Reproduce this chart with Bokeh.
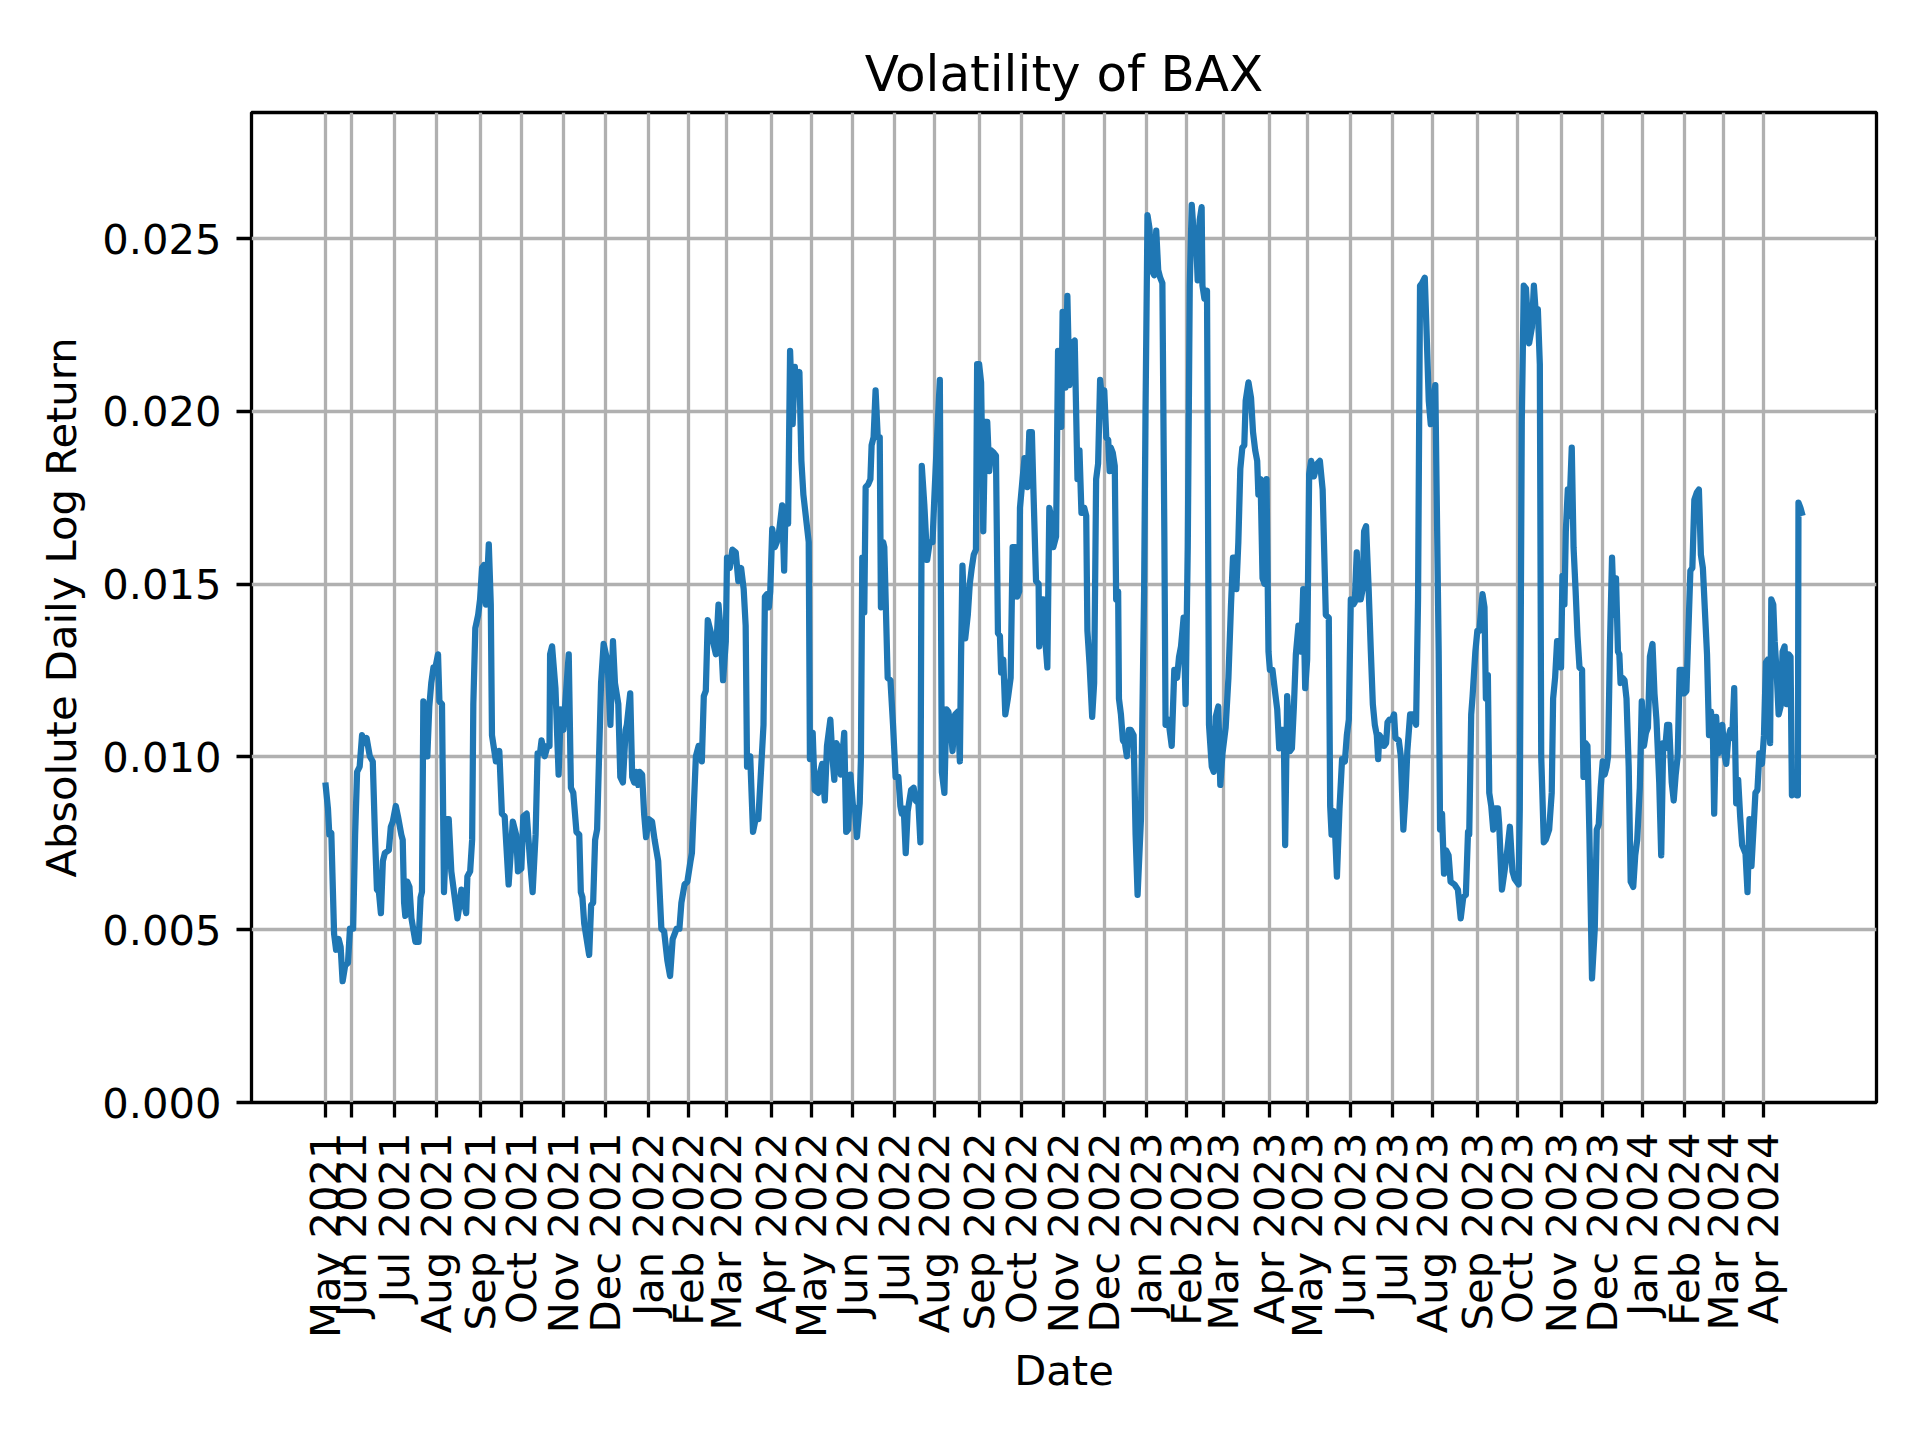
import math
import numpy as np
from bokeh.plotting import figure
from bokeh.models import FixedTicker, PrintfTickFormatter, Range1d, ColumnDataSource
from bokeh.embed import file_html
from bokeh.resources import INLINE

# ---------------- data ----------------
# x: trading-day number since 2021-05-12 ; y: absolute daily log return (rolling)
trade_day = [
    0, 1.3, 2, 3, 4.4, 5.4, 6.7, 7.7, 8.7, 10, 11.4, 12.4, 14, 15, 16, 17.3, 18.5, 19.5, 20.8, 22.4,
    23.9, 25, 26, 27, 28, 29, 30, 32, 33, 34, 35.5, 36.6, 38.3, 39, 39.7, 40.3, 41.3, 42.4, 43.4, 45.4,
    47, 48, 48.7, 49.4, 50.4, 51.4, 52.4, 53.4, 54.5, 55.5, 56.8, 57.5, 58.8, 59.8, 61.2, 62.2, 63.5, 66.6, 67.6, 68.6,
    71, 71.6, 73, 74, 74.6, 75.6, 77, 78, 79, 80, 81, 82.4, 83.4, 84, 86, 87.7, 89, 90.4, 92.4, 94.5,
    96.2, 97.1, 98.8, 99.8, 101.5, 103.2, 104.5, 106, 107, 108.2, 109, 110.6, 112, 113, 113.3, 114.3, 116, 117.6, 118.7, 120,
    122.7, 123.8, 125, 126.6, 128, 128.8, 129.6, 130.5, 133, 134, 135, 136, 137, 138, 139, 140.3, 142.3, 143.7, 145, 146,
    147.7, 148.7, 150, 151.4, 152, 153.7, 154.7, 155.7, 156.7, 157.7, 158.4, 159.7, 160.7, 161.7, 163, 164.7, 166, 167.8, 169.4, 170.8,
    172.4, 173.8, 175.1, 177.1, 178.5, 179.5, 181.1, 182.5, 184.1, 184.8, 186.8, 188.2, 189.8, 190.8, 191.8, 192.8, 194.8, 196.9, 198.2, 199.2,
    200.5, 201.9, 202.5, 203.9, 205.2, 206.9, 208.2, 209.6, 210.9, 211.9, 212.6, 214.2, 215.6, 216.9, 218.3, 220.9, 221.6, 222.6, 223.6, 224.3,
    225.3, 226.6, 227.6, 228.6, 230.3, 231.3, 232, 233.3, 234.3, 235.6, 236.7, 237.3, 239, 240, 241, 243.7, 244.3, 245.7, 246.7, 248.5,
    249.5, 250.5, 251.8, 252.9, 254.6, 255.6, 256.6, 257.6, 258.9, 259.9, 261.6, 262.6, 263.6, 264.7, 266, 267, 268, 269.4, 270, 270.7,
    271.7, 272.4, 273.7, 274.8, 275.4, 276.4, 277.4, 278.5, 279.5, 280.1, 281.2, 281.8, 283.5, 284.9, 286.2, 287.5, 288.9, 289.9, 290.6, 291.6,
    292.6, 293.6, 295.3, 296.6, 297.6, 299, 300, 300.7, 302, 303.4, 304.7, 306.1, 307.1, 308.4, 309.8, 310.8, 312.1, 313.1, 314.1, 315.2,
    316.2, 317.5, 318.9, 319.9, 320.5, 321.2, 322.6, 323.9, 324.9, 325.9, 326.9, 328, 328.6, 329.6, 330.6, 331.7, 332.7, 333.7, 334.7, 335.7,
    337, 338.1, 339.1, 340.1, 340.7, 341.8, 342.8, 344.1, 345.5, 346.5, 347.8, 348.8, 349.8, 350.2, 351.5, 352.5, 353.9, 354.9, 356.2, 356.9,
    358.3, 359.6, 359.9, 360.9, 362, 363, 364, 365, 366.3, 367, 368.4, 369.4, 371, 371.7, 373.1, 374.1, 375.1, 376.5, 377.8, 379.2,
    380.2, 381.2, 382.6, 383.6, 384.2, 385.3, 386.6, 387.6, 388.6, 389.6, 390.6, 391.7, 392.7, 393.7, 394.7, 395.4, 396, 397, 398, 398.7,
    399.7, 400.1, 401.1, 402.1, 403.1, 404.1, 405.1, 406.1, 407.5, 408.5, 409.5, 411.2, 412.8, 413.5, 414.5, 415.5, 416.5, 417.9, 418.9, 419.9,
    420.9, 422, 423, 423.6, 425, 426.7, 428, 429.4, 430.4, 431.4, 432.7, 433.7, 434.8, 435.8, 436.8, 437.8, 438.8, 439.8, 440.8, 441.8,
    442.2, 443.2, 444.5, 445.5, 446.9, 447.9, 448.9, 450.2, 451.2, 452.3, 453.9, 455.3, 456.6, 457.6, 458.3, 459.3, 460.3, 461.3, 462.3, 463.3,
    464, 465.4, 466.7, 467.7, 468.8, 469.8, 470.4, 471.5, 472.5, 473.5, 474.5, 475.5, 476.2, 477.5, 478.9, 479.9, 480.9, 481.9, 483.2, 483.9,
    484.9, 486.3, 487.3, 488.3, 489.3, 490.6, 492, 493, 494, 495, 496, 497, 498.4, 500.1, 501.4, 502.8, 504.4, 505.9, 506.6, 507.3,
    508.3, 508.9, 510, 511.3, 512.6, 514, 515, 516, 517, 518.3, 519, 520, 521, 522, 523, 523.7, 524.7, 526, 527.1, 528.1,
    529.1, 530.1, 530.8, 531.4, 532.4, 533.8, 534.8, 535.5, 536.5, 537.8, 538.8, 539.5, 541.2, 542.2, 543.5, 544.5, 545.5, 546.9, 548.5, 549.9,
    550.9, 551.9, 552.9, 554.3, 555.3, 556.3, 557.3, 558.3, 559.6, 560.3, 561.3, 562, 563, 564, 565, 566.3, 567.3, 569.3, 571, 572.4,
    573.7, 575, 576.1, 576.7, 577.7, 578.4, 579.8, 580.8, 581.8, 582.8, 583.4, 584.4, 585.1, 586.1, 586.8, 587.8, 588.8, 589.8, 591.2, 591.8,
    593.2, 594.5, 595.9, 597.2, 598.5, 599.6, 600.6, 601.6, 602.2, 603.2, 604.2, 605.3, 606.9, 608.3, 609.3, 610.3, 611.3, 612.3, 613, 613.6,
    614.3, 615.3, 617, 618.3, 619, 620, 621, 622, 623, 623.7, 624.7, 625.4, 626.4, 627.1, 628.4, 629.3, 630.3, 631.3, 632.3, 633.6,
    634.3, 635.3, 636.3, 637.3, 638.6, 640, 641, 642, 643, 644, 645, 646, 646.7, 647.7, 648.7, 649.7, 650.7, 651.7, 652.4, 653,
    654, 655, 656, 657.1, 658.1, 659.4, 660.4, 661.4, 662.7, 663.7, 664.8, 665.8, 666.8, 667.8, 669.1, 670.1, 671.1, 672.5, 673.5, 674.5,
    675.5, 676.5, 677.5, 678.8, 679.8, 680.8, 681.8, 682.8, 684.2, 685.2, 686.2, 687.2, 688.2, 689.2, 690.2, 691.5, 692.5, 693.5, 694.5, 695.5,
    696.6, 697.6, 698.6, 699.6, 700.2, 701.2, 702.2, 703.2, 704.3, 705.3, 706.3, 707.3, 708.3, 709.3, 710.3, 711.3, 712.3, 713.3, 714.3, 716,
    717, 718, 719, 720.3, 721, 722, 723, 724.3, 725.3, 726.3, 727.3, 728.4, 729, 730, 730.7, 731.7, 732.7, 733.7, 734.7, 735.7,
    736.7, 737.7, 738.7, 739.4, 740.7, 741.7, 742.4, 742.7, 743.7, 744.8,
]
volatility = [
    .00926, .00851, .00775, .0078, .00488, .00442, .00473, .0045, .00351, .00397, .00404, .00503, .00503, .00775, .00957, .00972, .01063, .0104, .01055, .01002,
    .00987, .00775, .00616, .00609, .00548, .00699, .00722, .0073, .00798, .00813, .00858, .00828, .00775, .0076, .00578, .0054, .00639, .00624, .00533, .00465,
    .00465, .00593, .00609, .01161, .01123, .01002, .01146, .01214, .01259, .01259, .01297, .01161, .01153, .00609, .0082, .0082, .00669, .00533, .00571, .00616,
    .00548, .00654, .00669, .0076, .01153, .01373, .0141, .01456, .01547, .01555, .01441, .01615, .01441, .01063, .00987, .01017, .00836, .00828, .00631, .00813,
    .00775, .00669, .00677, .00828, .00836, .00699, .00609, .00775, .0101, .0101, .01048, .01002, .01032, .01032, .01297, .0132, .01199, .00949, .01138, .01078,
    .01297, .00911, .00896, .00783, .00775, .00609, .00594, .00518, .00427, .00571, .00578, .0076, .0079, .01002, .01214, .01327, .01274, .01093, .01335, .01214,
    .01153, .00942, .00926, .01078, .01093, .01184, .00942, .00926, .00957, .00919, .00957, .00949, .00836, .00768, .0082, .00813, .0076, .00699, .00503, .00495,
    .00412, .00366, .00473, .00503, .00503, .00578, .00631, .00639, .00699, .00722, .01002, .01032, .00987, .01176, .01191, .01396, .0135, .01297, .01441, .01373,
    .01222, .01335, .01577, .01547, .016, .01592, .01509, .01547, .01486, .0138, .00972, .01002, .00783, .0082, .0082, .01093, .01464, .01471, .01433, .01479,
    .0166, .01607, .01622, .01645, .01728, .01539, .01721, .01675, .02175, .01963, .02129, .02061, .02114, .01857, .01759, .01622, .00994, .0107, .00904, .00896,
    .00957, .0098, .00874, .01032, .01108, .01002, .00934, .0104, .01025, .00949, .0107, .00783, .0079, .00949, .00858, .00851, .00768, .00866, .00994, .01577,
    .01418, .01781, .01789, .01804, .01902, .01925, .02061, .01925, .01925, .01433, .01622, .01607, .01229, .01222, .01093, .00942, .00942, .00858, .00836, .00851,
    .00722, .00843, .00904, .00911, .00874, .00866, .00753, .01842, .01728, .0157, .01622, .01622, .01759, .01925, .02091, .00957, .00896, .01138, .01131, .01093,
    .01017, .01123, .01131, .00987, .0129, .01554, .01343, .01411, .01501, .01547, .01585, .016, .02137, .02137, .02084, .01653, .0197, .0197, .01827, .01887,
    .0188, .01872, .01358, .0135, .01244, .01282, .01123, .01169, .01229, .01607, .01607, .01464, .01479, .01721, .01804, .01865, .01781, .0194, .0194, .01789,
    .01509, .01501, .0132, .01456, .01456, .01335, .01259, .01721, .01683, .01607, .01638, .02175, .01955, .02288, .02069, .02334, .02076, .02197, .02205, .01804,
    .01887, .01706, .01721, .01698, .01365, .01267, .01116, .01214, .01804, .01849, .02091, .02031, .02061, .01925, .01917, .01827, .01895, .0188, .01842, .01456,
    .01479, .01169, .01123, .01048, .0104, .01002, .01078, .01078, .01063, .00775, .00601, .0082, .01486, .02001, .02568, .0253, .02409, .02394, .02523, .02409,
    .02387, .02371, .01638, .01093, .01108, .01032, .01252, .01229, .0129, .0132, .01403, .01153, .01607, .02364, .02598, .02515, .0253, .02379, .02553, .02591,
    .02364, .02326, .02349, .01093, .00972, .00957, .01116, .01146, .00919, .0101, .01085, .01229, .01441, .01577, .01577, .01486, .01622, .01834, .01895, .01902,
    .02031, .02084, .02039, .0194, .01887, .01857, .01759, .01804, .01517, .01501, .01804, .01305, .01252, .01252, .01184, .01138, .01025, .01078, .01078, .00745,
    .01176, .01017, .01025, .01146, .01297, .0138, .01305, .01486, .01199, .01282, .01819, .01857, .01812, .01849, .01857, .01774, .01411, .01403, .00858, .00775,
    .00843, .00805, .00654, .00851, .00994, .00987, .01063, .01108, .01456, .01441, .01448, .01592, .01456, .01456, .01486, .01653, .01668, .01486, .01305, .01153,
    .01093, .01063, .00994, .01063, .01055, .01032, .0104, .011, .01108, .01108, .01123, .01055, .01048, .01002, .0079, .00881, .01017, .01123, .01123, .01093,
    .01456, .02364, .02371, .02387, .02213, .02031, .01963, .02016, .02076, .01759, .01305, .0079, .00836, .00662, .0073, .00715, .00639, .00631, .00616, .00533,
    .00594, .00601, .00783, .00775, .01123, .01176, .01305, .01365, .01365, .01433, .01471, .01433, .01169, .01237, .00896, .00858, .0079, .00851, .00851, .00805,
    .00616, .00669, .0073, .00798, .00669, .00647, .00639, .00631, .00851, .0197, .02364, .02356, .02197, .02243, .02364, .02281, .02296, .02137, .01002, .00889,
    .00753, .0076, .0079, .00896, .01169, .01229, .01335, .01335, .01259, .01524, .01441, .01653, .01774, .01698, .01895, .01607, .01486, .0135, .01259, .01252,
    .00942, .0104, .01032, .00775, .00359, .00503, .0079, .00805, .00911, .00987, .00949, .00972, .01002, .01335, .01577, .01411, .01517, .01305, .01297, .01214,
    .01229, .01222, .01169, .00972, .00639, .00624, .00715, .0076, .00911, .01161, .01032, .0107, .01085, .0129, .01327, .01184, .01108, .00926, .00715, .0104,
    .01025, .01093, .01093, .00926, .00874, .00949, .01002, .01252, .01252, .01184, .01191, .01365, .01539, .01547, .01744, .01766, .01774, .01585, .01547, .01426,
    .01297, .01063, .01131, .01055, .00836, .01116, .0101, .01048, .01093, .0101, .0098, .01055, .01078, .01055, .01199, .00866, .00934, .00828, .00745, .0072,
    .00609, .0082, .00684, .0082, .00896, .00904, .0101, .0098, .01063, .01274, .01282, .0104, .01456, .01441, .01335, .01244, .01123, .01146, .01305, .0132,
    .01153, .01297, .0129, .00889, .00896, .00889, .00889, .01736, .01721, .01698,
]

# x tick labels: first trading day of each month
tick_labels = [
    "May 2021", "Jun 2021", "Jul 2021", "Aug 2021", "Sep 2021", "Oct 2021", "Nov 2021", "Dec 2021",
    "Jan 2022", "Feb 2022", "Mar 2022", "Apr 2022", "May 2022", "Jun 2022", "Jul 2022", "Aug 2022",
    "Sep 2022", "Oct 2022", "Nov 2022", "Dec 2022", "Jan 2023", "Feb 2023", "Mar 2023", "Apr 2023",
    "May 2023", "Jun 2023", "Jul 2023", "Aug 2023", "Sep 2023", "Oct 2023", "Nov 2023", "Dec 2023",
    "Jan 2024", "Feb 2024", "Mar 2024", "Apr 2024",
]
# number of trading days in each month of the series (first month partial)
month_trading_days = [13, 22, 21, 22, 21, 21, 21, 22, 20, 19, 23, 20, 21, 21, 20, 23, 21, 21,
                      21, 21, 20, 19, 23, 19, 22, 21, 20, 23, 20, 22, 21, 20, 21, 20, 20, 22]
y_ticks = [0.0, 0.005, 0.010, 0.015, 0.020, 0.025]

tick_pos = [0] + [int(v) for v in np.cumsum(month_trading_days)[:-1]]

# ---------------- figure ----------------
FONT = "DejaVu Sans"
x_span = max(trade_day) - min(trade_day)
p = figure(
    output_backend="svg", toolbar_location=None,
    frame_width=1625, frame_height=990,
    min_border_left=251, min_border_right=36, min_border_top=112, min_border_bottom=320,
    x_range=Range1d(min(trade_day) - 0.05 * x_span, max(trade_day) + 0.05 * x_span),
    y_range=Range1d(0, 0.02865),
    title="Volatility of BAX",
)
p.background_fill_color = "white"
p.border_fill_color = "white"
p.outline_line_color = "black"
p.outline_line_width = 3.3

p.title.align = "center"
p.title.text_font = FONT
p.title.text_font_size = "50px"
p.title.text_font_style = "normal"
p.title.text_color = "black"
p.title.standoff = 19

src = ColumnDataSource(dict(x=trade_day, y=volatility))
p.line("x", "y", source=src, line_color="#1f77b4", line_width=6.25, line_join="round")

p.xaxis.ticker = FixedTicker(ticks=tick_pos)
p.xaxis.major_label_overrides = {t: lab for t, lab in zip(tick_pos, tick_labels)}
p.xaxis.major_label_orientation = math.pi / 2
p.yaxis.ticker = FixedTicker(ticks=y_ticks)
p.yaxis.formatter = PrintfTickFormatter(format="%.3f")

for ax in (p.xaxis, p.yaxis):
    ax.axis_line_color = None
    ax.major_tick_line_color = "black"
    ax.major_tick_line_width = 3.3
    ax.major_tick_out = 15
    ax.major_tick_in = 0
    ax.minor_tick_line_color = None
    ax.major_label_text_font = FONT
    ax.major_label_text_font_size = "41.7px"
    ax.major_label_text_color = "black"
    ax.major_label_standoff = 15
    ax.axis_label_text_font = FONT
    ax.axis_label_text_font_size = "41.7px"
    ax.axis_label_text_font_style = "normal"
    ax.axis_label_text_color = "black"

p.xaxis.axis_label = "Date"
p.yaxis.axis_label = "Absolute Daily Log Return"
p.xaxis.axis_label_standoff = 5
p.yaxis.axis_label_standoff = 13

p.grid.grid_line_color = "#b0b0b0"
p.grid.grid_line_width = 3.3

html = file_html(p, INLINE, title="Volatility of BAX")
with open("out.html", "w") as f:
    f.write(html)
